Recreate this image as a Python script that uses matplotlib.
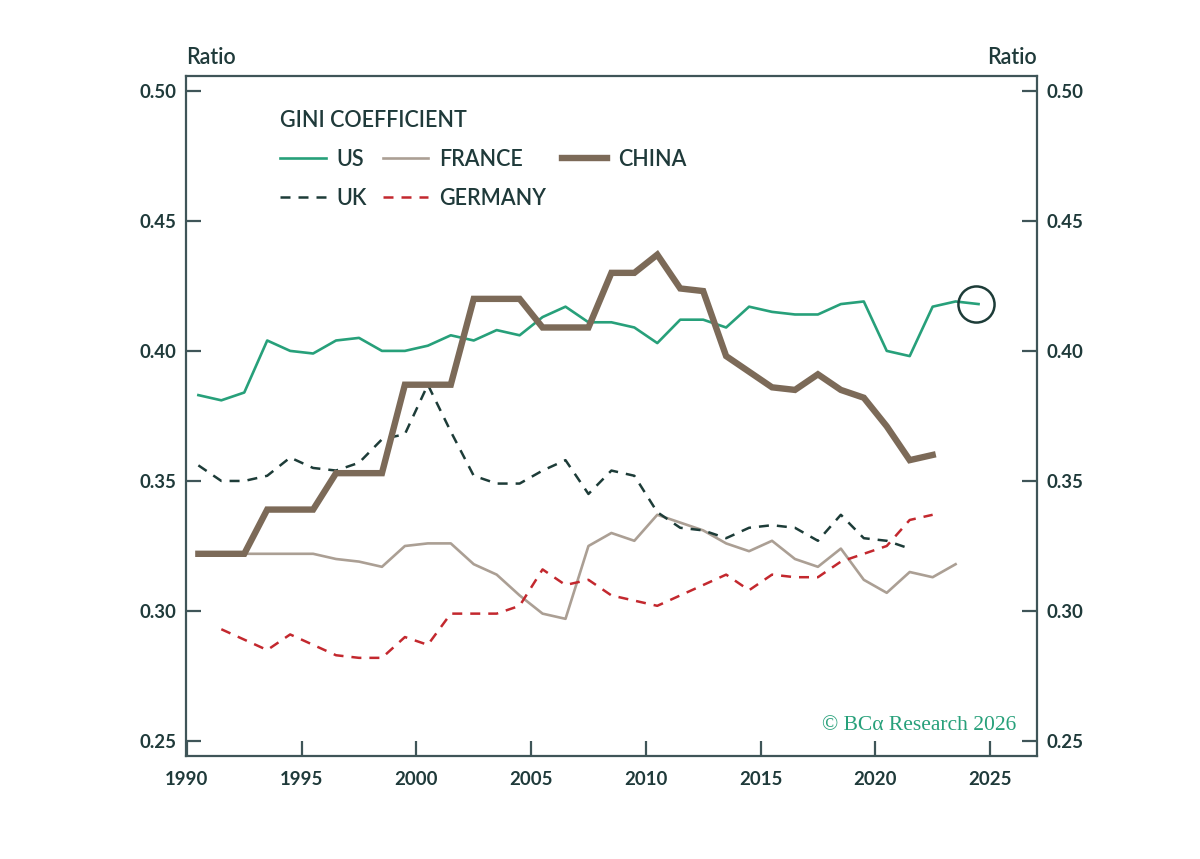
import numpy as np
import matplotlib
matplotlib.use("Agg")
import matplotlib.pyplot as plt
from matplotlib.lines import Line2D

# Gini coefficients (plotted at mid-year)
us_years = np.arange(1990, 2025)
us = [0.383, 0.381, 0.384, 0.404, 0.400, 0.399, 0.404, 0.405, 0.400, 0.400,
      0.402, 0.406, 0.404, 0.408, 0.406, 0.413, 0.417, 0.411, 0.411, 0.409,
      0.403, 0.412, 0.412, 0.409, 0.417, 0.415, 0.414, 0.414, 0.418, 0.419,
      0.400, 0.398, 0.417, 0.419, 0.418]

france_years = np.arange(1990, 2024)
france = [0.322, 0.322, 0.322, 0.322, 0.322, 0.322, 0.320, 0.319, 0.317, 0.325,
          0.326, 0.326, 0.318, 0.314, 0.306, 0.299, 0.297, 0.325, 0.330, 0.327,
          0.337, 0.334, 0.331, 0.326, 0.323, 0.327, 0.320, 0.317, 0.324, 0.312,
          0.307, 0.315, 0.313, 0.318]

china_years = np.arange(1990, 2023)
china = [0.322, 0.322, 0.322, 0.339, 0.339, 0.339, 0.353, 0.353, 0.353, 0.387,
         0.387, 0.387, 0.420, 0.420, 0.420, 0.409, 0.409, 0.409, 0.430, 0.430,
         0.437, 0.424, 0.423, 0.398, 0.392, 0.386, 0.385, 0.391, 0.385, 0.382,
         0.371, 0.358, 0.360]

uk_years = np.arange(1990, 2022)
uk = [0.356, 0.350, 0.350, 0.352, 0.359, 0.355, 0.354, 0.357, 0.366, 0.368,
      0.387, 0.369, 0.352, 0.349, 0.349, 0.354, 0.358, 0.345, 0.354, 0.352,
      0.338, 0.332, 0.331, 0.328, 0.332, 0.333, 0.332, 0.327, 0.337, 0.328,
      0.327, 0.324]

germany_years = np.arange(1991, 2023)
germany = [0.293, 0.289, 0.285, 0.291, 0.287, 0.283, 0.282, 0.282, 0.290, 0.287,
           0.299, 0.299, 0.299, 0.302, 0.316, 0.310, 0.312, 0.306, 0.304, 0.302,
           0.306, 0.310, 0.314, 0.308, 0.314, 0.313, 0.313, 0.319, 0.322, 0.325,
           0.335, 0.337]

xticks = [1990, 1995, 2000, 2005, 2010, 2015, 2020, 2025]
yticks = [0.25, 0.30, 0.35, 0.40, 0.45, 0.50]

TXT = "#1f3a3a"
SPINE = "#3f5558"
C_US, C_FR, C_CN = "#27a07a", "#ab9f94", "#7c6a58"
C_UK, C_DE = "#1d3c38", "#c3282e"
DASH = (0, (4, 3.2))

plt.rcParams["font.family"] = ["Lato", "DejaVu Sans"]

fig = plt.figure(figsize=(12, 8.59), dpi=100)
ax = fig.add_axes([0.1548, 0.1203, 0.7094, 0.7916])

mid = 0.5
ax.plot(france_years + mid, france, color=C_FR, lw=1.9, zorder=3)
ax.plot(germany_years + mid, germany, color=C_DE, lw=1.8, ls=DASH, zorder=3)
ax.plot(uk_years + mid, uk, color=C_UK, lw=1.8, ls=DASH, zorder=3)
ax.plot(us_years + mid, us, color=C_US, lw=1.9, zorder=4)
ax.plot(china_years + mid, china, color=C_CN, lw=4.6, zorder=5,
        solid_joinstyle="miter")
ax.plot(us_years[-1] + mid - 0.1, us[-1], "o", ms=26, mfc="none",
        mec=C_UK, mew=1.8, zorder=6)

ax.set_xlim(1989.95, 2027.05)
ax.set_ylim(0.2444, 0.5058)
ax.set_xticks(xticks)
ax.set_yticks(yticks)
ax.set_yticklabels([f"{v:.2f}" for v in yticks])

for s in ax.spines.values():
    s.set_color(SPINE); s.set_linewidth(1.6)
ax.tick_params(axis="both", direction="in", length=11, width=1.6,
               color=SPINE, labelcolor=TXT, labelsize=13.4)
ax.tick_params(axis="y", which="both", right=True, labelright=True, pad=7)
ax.tick_params(axis="x", pad=11)
for lab in ax.get_xticklabels() + ax.get_yticklabels():
    lab.set_fontweight("bold")

ax.text(0.0, 1.012, "Ratio", transform=ax.transAxes, ha="left", va="bottom",
        fontsize=15.5, color=TXT, fontweight="semibold")
ax.text(1.0, 1.012, "Ratio", transform=ax.transAxes, ha="right", va="bottom",
        fontsize=15.5, color=TXT, fontweight="semibold")

handles = [
    Line2D([], [], color=C_US, lw=1.9),
    Line2D([], [], color=C_UK, lw=1.8, ls=DASH),
    Line2D([], [], color=C_FR, lw=1.9),
    Line2D([], [], color=C_DE, lw=1.8, ls=DASH),
    Line2D([], [], color=C_CN, lw=4.6),
]
labels = ["US", "UK", "FRANCE", "GERMANY", "CHINA"]
leg = ax.legend(handles, labels, ncol=3, loc="upper left",
                bbox_to_anchor=(0.0985, 0.966), frameon=False,
                title="GINI COEFFICIENT", alignment="left",
                fontsize=15.5, title_fontsize=15.5, borderpad=0,
                handlelength=2.1, handletextpad=0.5, columnspacing=0.75,
                labelspacing=0.84)
for t in leg.get_texts():
    t.set_color(TXT); t.set_fontweight("semibold")
leg.get_title().set_color(TXT)
leg.get_title().set_fontweight("semibold")

ax.text(0.975, 0.045, "\u00a9 BC\u03b1 Research 2026", transform=ax.transAxes,
        ha="right", va="center", fontsize=15.5, color=C_US,
        family=["Liberation Serif", "DejaVu Serif"])

fig.savefig("out.png", dpi=100, facecolor="white")
